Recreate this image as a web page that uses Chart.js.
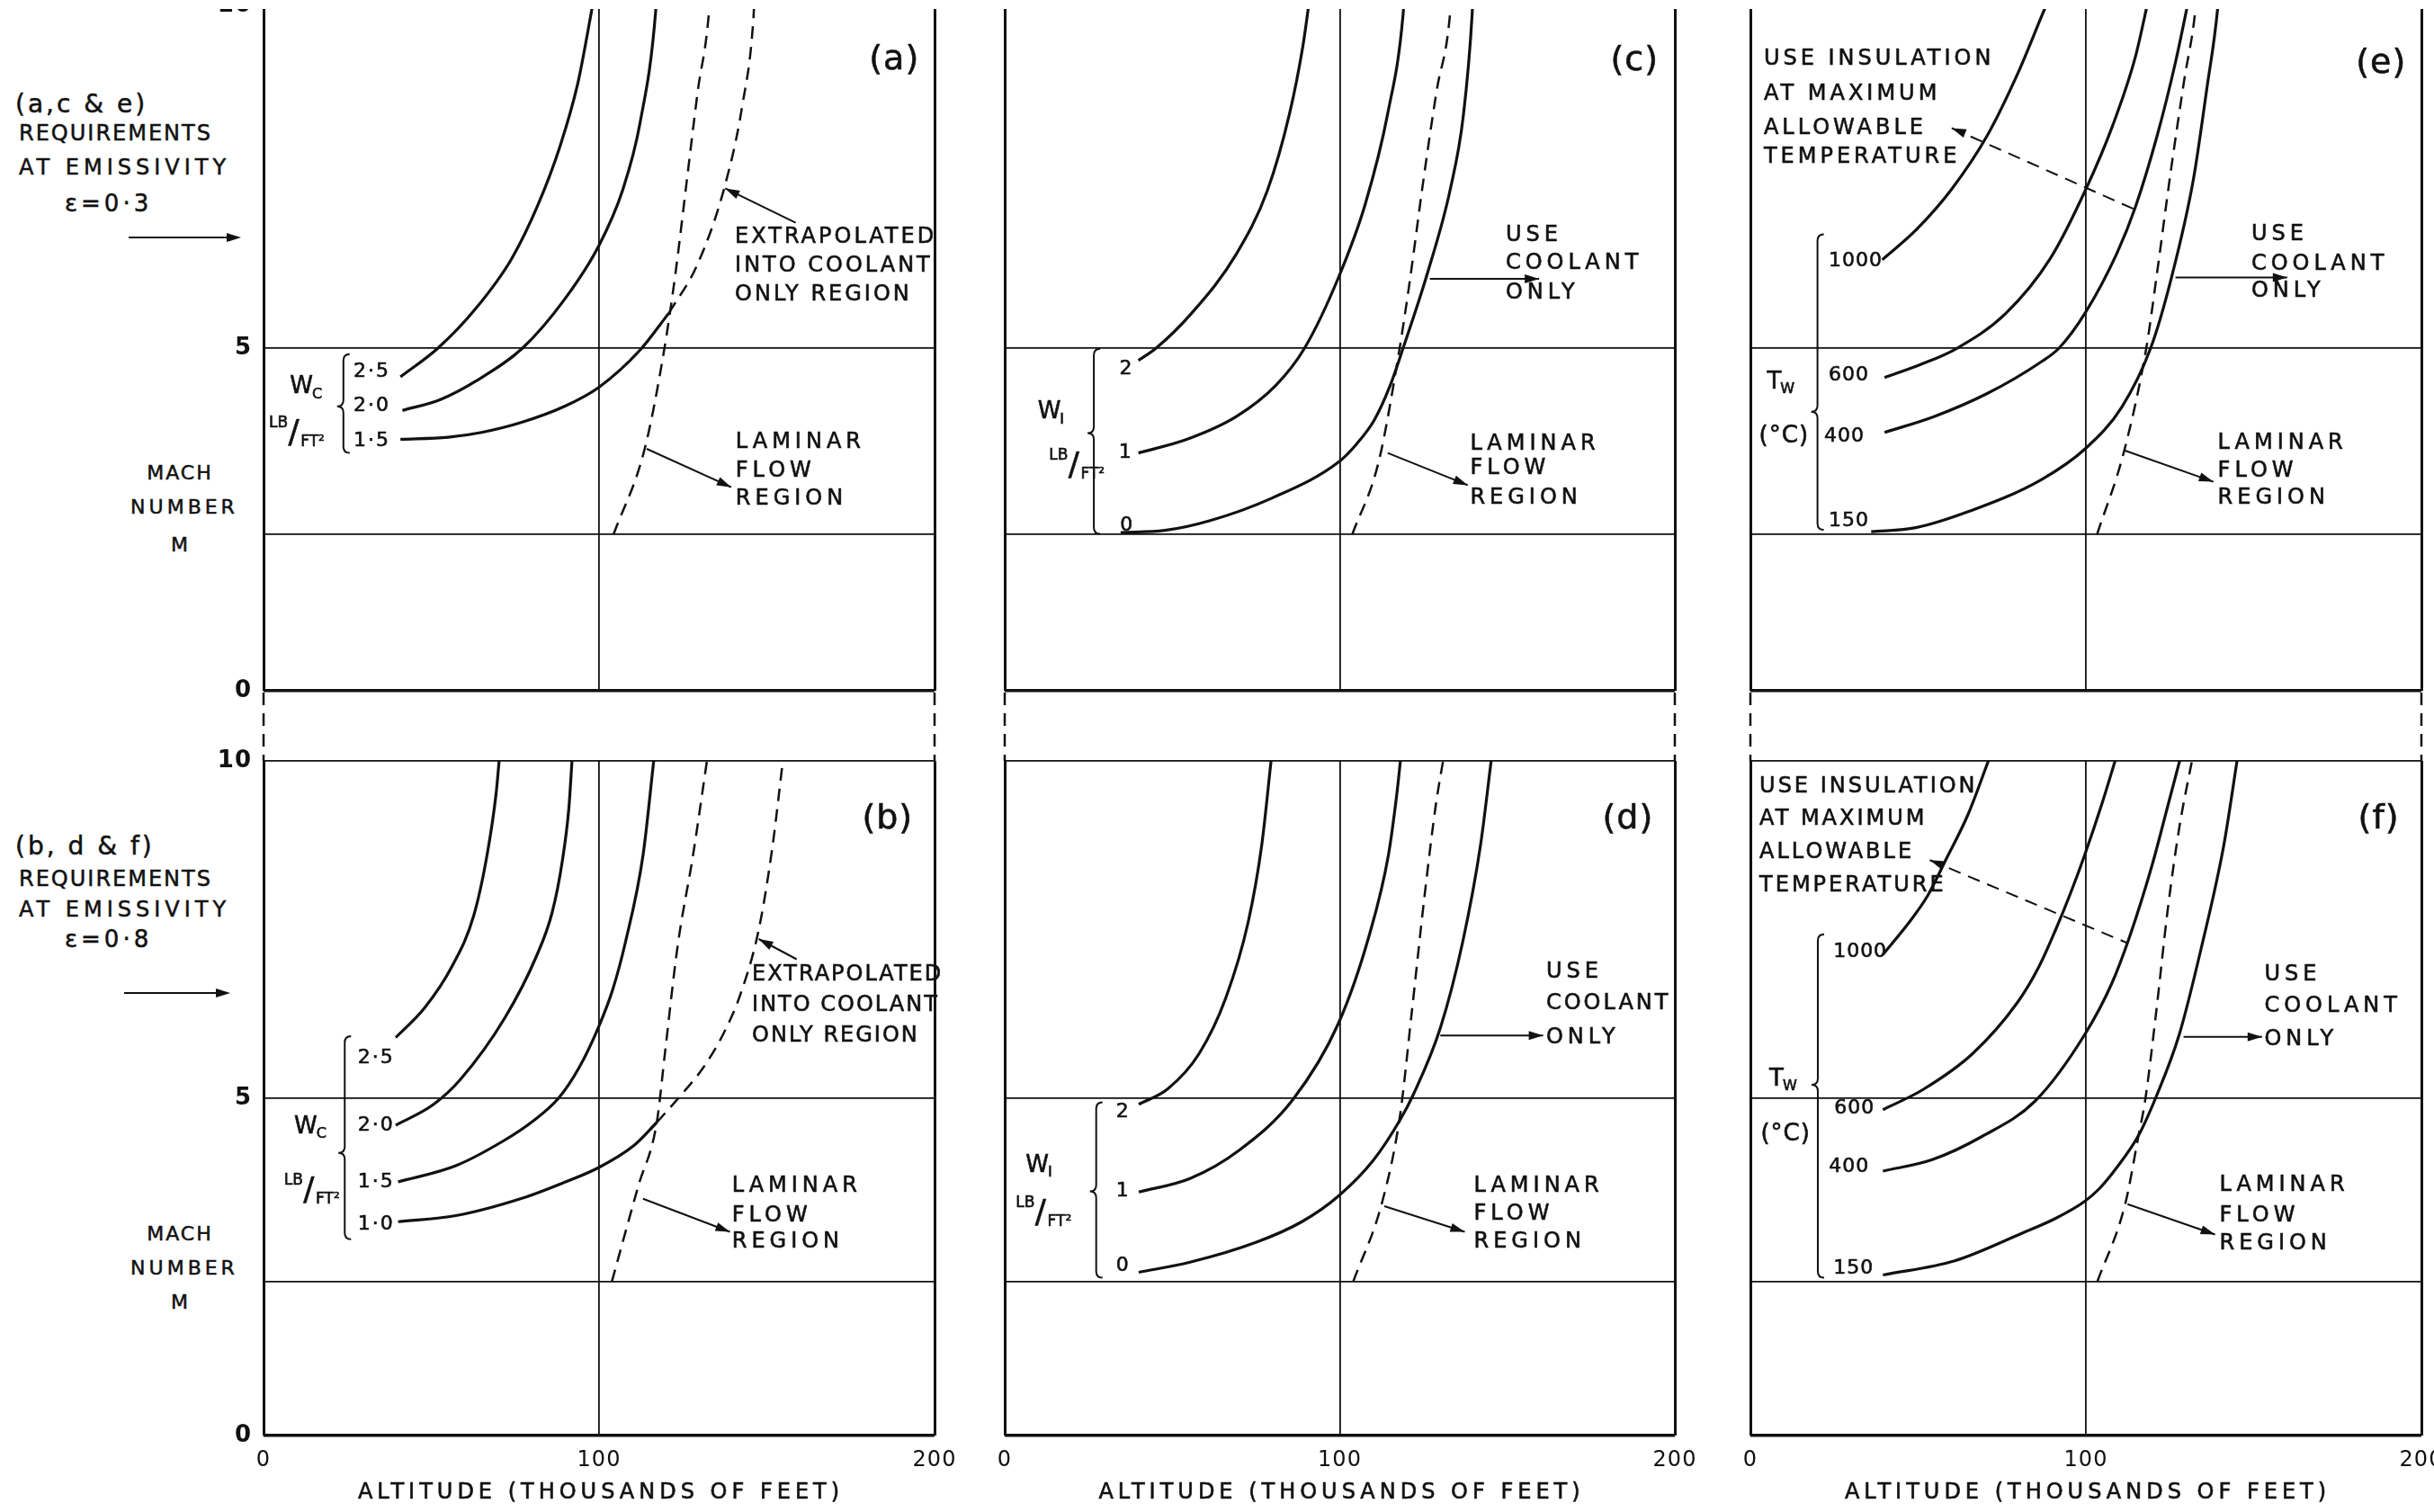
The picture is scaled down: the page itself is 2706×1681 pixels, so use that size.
<!DOCTYPE html>
<html>
<head>
<meta charset="utf-8">
<script src="https://cdn.jsdelivr.net/npm/chart.js@4.4.1/dist/chart.umd.min.js"></script>
<style>
html, body { margin: 0; padding: 0; overflow: hidden; background: #fff; }
body { position: relative; width: 2706px; height: 1681px; font-family: "DejaVu Sans", sans-serif; color: #111; }
canvas { position: absolute; }
.t { position: absolute; font-size: 24px; letter-spacing: 5px; white-space: nowrap; line-height: 1; transform: translateY(-50%); -webkit-text-stroke: 0.5px #111; }
.c { transform: translate(-50%, -50%); }
#strip { position: absolute; left: 0; top: 0; width: 100%; height: 10px; background: #fff; z-index: 5; }
</style>
</head>
<body>
<div id="strip"></div>

<div class="t" style="left:17px;top:116px;font-size:28px;letter-spacing:3px">(a,c &amp; e)</div>
<div class="t" style="left:21px;top:148px;letter-spacing:2px">REQUIREMENTS</div>
<div class="t" style="left:21px;top:186px">AT EMISSIVITY</div>
<div class="t" style="left:72px;top:226px;font-size:26px;letter-spacing:4px">ε=0·3</div>
<div class="t c" style="left:200px;top:526px;font-size:22px;letter-spacing:2px">MACH</div>
<div class="t c" style="left:205px;top:564px;font-size:22px;letter-spacing:4px">NUMBER</div>
<div class="t c" style="left:202px;top:606px;font-size:22px">M</div>

<div class="t" style="left:17px;top:941px;font-size:28px;letter-spacing:3px">(b, d &amp; f)</div>
<div class="t" style="left:21px;top:977px;letter-spacing:2px">REQUIREMENTS</div>
<div class="t" style="left:21px;top:1011px">AT EMISSIVITY</div>
<div class="t" style="left:72px;top:1044px;font-size:26px;letter-spacing:4px">ε=0·8</div>
<div class="t c" style="left:200px;top:1372px;font-size:22px;letter-spacing:2px">MACH</div>
<div class="t c" style="left:205px;top:1410px;font-size:22px;letter-spacing:4px">NUMBER</div>
<div class="t c" style="left:202px;top:1448px;font-size:22px">M</div>

<svg style="position:absolute;left:0;top:0" width="300" height="1681">
  <line x1="143" y1="264" x2="256" y2="264" stroke="#111" stroke-width="2"/>
  <polygon points="268,264 252,259 252,269" fill="#111"/>
  <line x1="138" y1="1104" x2="244" y2="1104" stroke="#111" stroke-width="2"/>
  <polygon points="256,1104 240,1099 240,1109" fill="#111"/>
</svg>

<script>
// axes
const altitudeTicks = [0, 100, 200];          // thousands of feet
const machGrid = [0, 2.28, 5, 10];            // horizontal rules
const machLabels = [0, 5, 10];
const altitudeTitle = 'ALTITUDE (THOUSANDS OF FEET)';

// (a) coolant weight Wc, emissivity 0.3   [altitude, Mach]
const aWc25 = [[40.8,4.58],[52,5.0],[63.3,5.58],[73.9,6.3],[81.8,7.09],[88.4,7.95],[93.7,8.87],[98.3,10.06]];
const aWc20 = [[41.4,4.09],[52.7,4.25],[63.3,4.52],[77.2,5.0],[89.7,5.71],[100,6.5],[107,7.3],[112.2,8.28],[116.9,9.93],[117.1,10.1]];
const aWc15 = [[40.8,3.67],[55,3.7],[65,3.77],[76.5,3.91],[89.7,4.15],[100,4.43],[112.2,4.97],[120.8,5.51]];
const aWc15Extra = [[120.8,5.51],[129.4,6.23],[137.4,7.35],[142.7,8.54],[146,9.8],[146.3,10.1]];
const aLaminar = [[104.3,2.28],[113.6,3.53],[119.5,5.0],[122.8,6.1],[126.1,7.42],[129.4,8.74],[132.8,9.93],[133,10.1]];

// (c) insulation weight Wi, emissivity 0.3
const cWi2 = [[39.9,4.82],[45.2,5.0],[55.8,5.51],[69.1,6.37],[78.4,7.3],[85,8.42],[89,9.41],[91,10.1]];
const cWi1 = [[39.9,3.47],[54.5,3.67],[69.1,4.0],[81,4.46],[89.5,5.0],[99.7,6.04],[107.6,7.1],[114.3,8.42],[118.9,9.87],[119.2,10.1]];
const cWi0 = [[34.6,2.31],[47.8,2.34],[61.1,2.48],[79.7,2.81],[99.7,3.34],[105,3.6],[110.3,3.95],[115,4.45],[118.9,5.0],[126.2,6.1],[132.9,7.3],[136.9,8.4],[139.5,9.87],[139.7,10.1]];
const cLaminar = [[103.7,2.28],[111.6,3.34],[117.6,4.92],[120.9,5.98],[124.9,7.43],[128.9,8.75],[132.9,9.87],[133.2,10.1]];

// (e) wall temperature Tw (deg C), emissivity 0.3
const eTw1000 = [[39.3,6.29],[49.3,6.72],[60,7.32],[70.7,8.11],[80,9.04],[86.7,9.83],[89,10.1]];
const eTw600 = [[40,4.57],[50.7,4.76],[61.3,4.99],[76,5.5],[89.3,6.3],[100,7.32],[108,8.25],[114.7,9.24],[118.7,10.1]];
const eTw400 = [[40,3.77],[54.7,4.0],[70.7,4.34],[86.7,4.8],[92,5.0],[100,5.53],[109.3,6.39],[114.7,7.05],[121.3,8.11],[126.7,9.17],[130.7,10.1]];
const eTw150 = [[36,2.32],[49.3,2.38],[65.3,2.62],[86.7,3.08],[100,3.54],[110.7,4.14],[119.3,5.0],[125.3,5.99],[132,7.45],[136,8.77],[139.3,9.97],[139.5,10.1]];
const eLaminar = [[103.3,2.28],[111.3,3.48],[118,5.0],[121.3,6.13],[125.3,7.58],[129.3,8.91],[132.7,9.97],[132.9,10.1]];
const eInsulation = [[60,8.21],[114.7,7.02]];

// (b) coolant weight Wc, emissivity 0.8
const bWc25 = [[39.4,5.9],[48,6.34],[56,6.94],[62.6,7.7],[66.6,8.6],[69.3,9.51],[70.3,10.05]];
const bWc20 = [[39.4,4.6],[50.7,4.91],[58.7,5.28],[71.9,6.19],[81.2,7.09],[86,7.75],[89,8.5],[91,9.3],[92,10.05]];
const bWc15 = [[40.1,3.76],[57.3,4.0],[71.9,4.38],[80,4.65],[87.9,5.0],[94,5.45],[99.8,6.05],[104,6.6],[107.8,7.3],[113.1,8.6],[116.4,10.05]];
const bWc10 = [[40.1,3.17],[57.3,3.26],[77.2,3.52],[90,3.76],[99.8,3.97],[110.4,4.3],[117.2,4.64]];
const bWc10Extra = [[117.2,4.64],[125,5.08],[131,5.45],[137,5.95],[142.2,6.55],[147.6,7.5],[151.6,8.7],[154.9,10.05]];
const bLaminar = [[103.8,2.28],[111.7,3.7],[117.2,4.64],[119.8,5.74],[123.4,7.25],[128,8.6],[132.3,10.05]];

// (d) insulation weight Wi, emissivity 0.8
const dWi2 = [[40,4.91],[48.7,5.14],[58,5.66],[66,6.49],[72.7,7.62],[76.7,8.75],[79.6,10.05]];
const dWi1 = [[40,3.61],[55.3,3.81],[70,4.23],[86,4.98],[99.6,6.11],[108.7,7.4],[114.5,8.6],[117,9.5],[118.2,10.05]];
const dWi0 = [[40,2.42],[55.3,2.57],[75.3,2.87],[88.7,3.17],[99.6,3.55],[110,4.08],[118,4.68],[122,5.06],[130,6.04],[136.7,7.32],[142,8.75],[145.3,10.05]];
const dLaminar = [[104,2.28],[112.7,3.47],[118,4.75],[121.3,6.19],[125.3,8],[128.7,9.36],[131,10.05]];

// (f) wall temperature Tw (deg C), emissivity 0.8
const fTw1000 = [[39.5,7.13],[47.5,7.62],[52.8,8.0],[58.2,8.53],[64.9,9.21],[71.3,10.05]];
const fTw600 = [[39.5,4.83],[51.5,5.13],[66.2,5.66],[79.6,6.42],[86,6.95],[91,7.5],[95.5,8.05],[99.6,8.6],[105,9.4],[109,10.05]];
const fTw400 = [[39.5,3.92],[54.2,4.09],[68.9,4.43],[84.9,4.96],[99.6,5.94],[107.7,6.7],[113,7.39],[119.7,8.45],[124.5,9.35],[128.2,10.05]];
const fTw150 = [[39.5,2.38],[60.9,2.59],[81,3.0],[91,3.22],[99.6,3.47],[104,3.66],[109,3.96],[115.7,4.45],[121,5.03],[127.8,5.94],[134.4,7.23],[141.1,8.75],[145.2,10.05]];
const fLaminar = [[103.4,2.28],[111.7,3.43],[115.7,4.45],[117.7,4.98],[121,6.3],[124.4,7.8],[127.8,9.0],[131.8,10.05]];
const fInsulation = [[53.5,8.53],[112.4,7.3]];

// layout
const FONT = '"DejaVu Sans", sans-serif';
const INK = '#111';
const COLS = [[293, 1039], [1117, 1862], [1946, 2692]];
const ROWS = [
  { canvasTop: -24, padTop: 30, plotBottom: 768, axisH: 30, padRight: 14 },
  { canvasTop: 768, padTop: 78, plotBottom: 1596, axisH: 85, padRight: 50 }
];
const Y_AXIS_W = 60;
const EX = 3; // tighter spacing used for the "extrapolated" note

const PANELS = [
  { row: 0, col: 0,
    curves: [{ d: aWc25 }, { d: aWc20 }, { d: aWc15 }, { d: aWc15Extra, dash: true }, { d: aLaminar, dash: true }],
    notes: [
      { t: '(a)', x: 188, y: 9.2, size: 38, align: 'center', gap: 1 },
      { t: 'EXTRAPOLATED', x: 140.5, y: 6.62, gap: EX }, { t: 'INTO COOLANT', x: 140.5, y: 6.2, gap: EX }, { t: 'ONLY REGION', x: 140.5, y: 5.78, gap: EX },
      { arrow: [158.6, 6.83, 137.6, 7.33] },
      { t: 'LAMINAR', x: 140.7, y: 3.63 }, { t: 'FLOW', x: 140.7, y: 3.2 }, { t: 'REGION', x: 140.7, y: 2.8 },
      { arrow: [114.2, 3.53, 139.4, 2.97] },
      { sub: ['W', 'C'], x: 11.6, y: 4.43 }, { frac: true, x: 9.0, y: 3.74 },
      { brace: [23.8, 4.91, 3.47, 4.15] },
      { t: '2·5', x: 26.8, y: 4.65, size: 22, gap: 2 }, { t: '2·0', x: 26.8, y: 4.15, size: 22, gap: 2 }, { t: '1·5', x: 26.8, y: 3.65, size: 22, gap: 2 }
    ] },
  { row: 0, col: 1,
    curves: [{ d: cWi2 }, { d: cWi1 }, { d: cWi0 }, { d: cLaminar, dash: true }],
    notes: [
      { t: '(c)', x: 188, y: 9.18, size: 38, align: 'center', gap: 1 },
      { t: 'USE', x: 149.5, y: 6.64 }, { t: 'COOLANT', x: 149.5, y: 6.24 }, { t: 'ONLY', x: 149.5, y: 5.81 },
      { arrow: [126.9, 6.01, 159.5, 6.01] },
      { t: 'LAMINAR', x: 138.9, y: 3.6 }, { t: 'FLOW', x: 138.9, y: 3.24 }, { t: 'REGION', x: 138.9, y: 2.81 },
      { arrow: [114.3, 3.47, 138.2, 3.0] },
      { sub: ['W', 'I'], x: 13.6, y: 4.06 }, { frac: true, x: 20.6, y: 3.27 },
      { brace: [26.6, 4.99, 2.29, 3.76] },
      { t: '2', x: 36.8, y: 4.69, align: 'center', size: 22 }, { t: '1', x: 36.6, y: 3.47, align: 'center', size: 22 }, { t: '0', x: 37, y: 2.41, align: 'center', size: 22 }
    ] },
  { row: 0, col: 2,
    curves: [{ d: eTw1000 }, { d: eTw600 }, { d: eTw400 }, { d: eTw150 }, { d: eLaminar, dash: true }, { d: eInsulation, dash: true, thin: true }],
    notes: [
      { t: 'USE INSULATION', x: 4, y: 9.21, gap: 4 }, { t: 'AT MAXIMUM', x: 4, y: 8.71, gap: 4 }, { t: 'ALLOWABLE', x: 4, y: 8.21, gap: 4 }, { t: 'TEMPERATURE', x: 4, y: 7.78, gap: 4 },
      { t: '(e)', x: 188, y: 9.15, size: 38, align: 'center', gap: 1 },
      { head: [62.5, 8.16, 60, 8.21] },
      { t: 'USE', x: 149.3, y: 6.66 }, { t: 'COOLANT', x: 149.3, y: 6.23 }, { t: 'ONLY', x: 149.3, y: 5.83 },
      { arrow: [126.7, 6.03, 160, 6.03] },
      { t: 'LAMINAR', x: 139.3, y: 3.61 }, { t: 'FLOW', x: 139.3, y: 3.21 }, { t: 'REGION', x: 139.3, y: 2.81 },
      { arrow: [111.3, 3.51, 138, 3.05] },
      { sub: ['T', 'W'], x: 8.7, y: 4.5 }, { t: '(°C)', x: 10, y: 3.71, size: 26, align: 'center', gap: 1 },
      { brace: [20, 6.66, 2.35, 4.07] },
      { t: '1000', x: 23.3, y: 6.27, size: 22, gap: 1 }, { t: '600', x: 23.3, y: 4.6, size: 22, gap: 1 }, { t: '400', x: 22, y: 3.71, size: 22, gap: 1 }, { t: '150', x: 23.3, y: 2.48, size: 22, gap: 1 }
    ] },
  { row: 1, col: 0,
    curves: [{ d: bWc25 }, { d: bWc20 }, { d: bWc15 }, { d: bWc10 }, { d: bWc10Extra, dash: true }, { d: bLaminar, dash: true }],
    notes: [
      { t: '(b)', x: 186, y: 9.13, size: 38, align: 'center', gap: 1 },
      { t: 'EXTRAPOLATED', x: 145.6, y: 6.83, gap: 2 }, { t: 'INTO COOLANT', x: 145.6, y: 6.38, gap: 2 }, { t: 'ONLY REGION', x: 145.6, y: 5.92, gap: 2 },
      { arrow: [158.9, 7.06, 147.6, 7.36] },
      { t: 'LAMINAR', x: 139.6, y: 3.7 }, { t: 'FLOW', x: 139.6, y: 3.26 }, { t: 'REGION', x: 139.6, y: 2.87 },
      { arrow: [113.1, 3.51, 139, 3.02] },
      { sub: ['W', 'C'], x: 12.9, y: 4.57 }, { frac: true, x: 13.5, y: 3.62 },
      { brace: [24.2, 5.92, 2.91, 4.19] },
      { t: '2·5', x: 28.1, y: 5.6, size: 22, gap: 2 }, { t: '2·0', x: 28.1, y: 4.6, size: 22, gap: 2 }, { t: '1·5', x: 28.1, y: 3.76, size: 22, gap: 2 }, { t: '1·0', x: 28.1, y: 3.13, size: 22, gap: 2 }
    ] },
  { row: 1, col: 1,
    curves: [{ d: dWi2 }, { d: dWi1 }, { d: dWi0 }, { d: dLaminar, dash: true }],
    notes: [
      { t: '(d)', x: 186, y: 9.13, size: 38, align: 'center', gap: 1 },
      { t: 'USE', x: 161.6, y: 6.87 }, { t: 'COOLANT', x: 161.6, y: 6.4, gap: 3 }, { t: 'ONLY', x: 161.6, y: 5.9 },
      { arrow: [130, 5.93, 160.7, 5.93] },
      { t: 'LAMINAR', x: 140, y: 3.7 }, { t: 'FLOW', x: 140, y: 3.28 }, { t: 'REGION', x: 140, y: 2.87 },
      { arrow: [113.3, 3.4, 137.3, 3.02] },
      { sub: ['W', 'I'], x: 10, y: 4.0 }, { frac: true, x: 10.7, y: 3.28 },
      { brace: [27.3, 4.94, 2.34, 3.62] },
      { t: '2', x: 35.8, y: 4.79, align: 'center', size: 22 }, { t: '1', x: 35.8, y: 3.62, align: 'center', size: 22 }, { t: '0', x: 35.8, y: 2.51, align: 'center', size: 22 }
    ] },
  { row: 1, col: 2,
    curves: [{ d: fTw1000 }, { d: fTw600 }, { d: fTw400 }, { d: fTw150 }, { d: fLaminar, dash: true }, { d: fInsulation, dash: true, thin: true }],
    notes: [
      { t: 'USE INSULATION', x: 2.7, y: 9.62, gap: 3 }, { t: 'AT MAXIMUM', x: 2.7, y: 9.13, gap: 3 }, { t: 'ALLOWABLE', x: 2.7, y: 8.64, gap: 3 }, { t: 'TEMPERATURE', x: 2.7, y: 8.15, gap: 3 },
      { t: '(f)', x: 187.3, y: 9.13, size: 38, align: 'center', gap: 1 },
      { head: [56, 8.48, 53.5, 8.53] },
      { t: 'USE', x: 153.2, y: 6.83 }, { t: 'COOLANT', x: 153.2, y: 6.36 }, { t: 'ONLY', x: 153.2, y: 5.87 },
      { arrow: [129.1, 5.91, 152.5, 5.91] },
      { t: 'LAMINAR', x: 139.8, y: 3.71 }, { t: 'FLOW', x: 139.8, y: 3.25 }, { t: 'REGION', x: 139.8, y: 2.84 },
      { arrow: [112.4, 3.43, 138.5, 2.98] },
      { sub: ['T', 'W'], x: 9.4, y: 5.28 }, { t: '(°C)', x: 10.5, y: 4.47, size: 26, align: 'center', gap: 1 },
      { brace: [20.1, 7.43, 2.34, 5.2] },
      { t: '1000', x: 24.7, y: 7.17, size: 22, gap: 1 }, { t: '600', x: 25, y: 4.85, size: 22, gap: 1 }, { t: '400', x: 23.4, y: 3.98, size: 22, gap: 1 }, { t: '150', x: 24.7, y: 2.47, size: 22, gap: 1 }
    ] }
];

function drawHead(ctx, x1, y1, x2, y2) {
  const a = Math.atan2(y2 - y1, x2 - x1), L = 16, W = 5;
  ctx.beginPath();
  ctx.moveTo(x2, y2);
  ctx.lineTo(x2 - L * Math.cos(a) + W * Math.sin(a), y2 - L * Math.sin(a) - W * Math.cos(a));
  ctx.lineTo(x2 - L * Math.cos(a) - W * Math.sin(a), y2 - L * Math.sin(a) + W * Math.cos(a));
  ctx.closePath();
  ctx.fill();
}

function inkText(ctx, s, x, y) {
  ctx.fillText(s, x, y);
  ctx.lineWidth = 0.6;
  ctx.strokeText(s, x, y);
}

function notesPlugin(panel) {
  return {
    id: 'notes',
    beforeDraw(chart) { chart.ctx.letterSpacing = '1px'; },
    afterDatasetsDraw(chart) {
      const { ctx } = chart;
      const xs = chart.scales.x, ys = chart.scales.y;
      const px = v => xs.getPixelForValue(v), py = v => ys.getPixelForValue(v);
      ctx.save();
      ctx.fillStyle = INK;
      ctx.strokeStyle = INK;
      ctx.textBaseline = 'middle';
      for (const n of panel.notes) {
        if (n.t) {
          ctx.font = (n.size || 24) + 'px ' + FONT;
          ctx.letterSpacing = (n.gap != null ? n.gap : 5) + 'px';
          ctx.textAlign = n.align || 'left';
          inkText(ctx, n.t, px(n.x), py(n.y));
        } else if (n.sub) {
          ctx.letterSpacing = '0px';
          ctx.textAlign = 'left';
          ctx.font = '26px ' + FONT;
          const X = px(n.x) - 14, Y = py(n.y);
          inkText(ctx, n.sub[0], X, Y);
          const w = ctx.measureText(n.sub[0]).width;
          ctx.font = '16px ' + FONT;
          inkText(ctx, n.sub[1], X + w - 1, Y + 8);
        } else if (n.frac) {
          ctx.letterSpacing = '0px';
          ctx.textAlign = 'center';
          const X = px(n.x), Y = py(n.y);
          ctx.font = '17px ' + FONT;
          inkText(ctx, 'LB', X - 17, Y - 12);
          ctx.font = '36px ' + FONT;
          inkText(ctx, '/', X, Y);
          ctx.font = '17px ' + FONT;
          inkText(ctx, 'FT²', X + 21, Y + 9);
        } else if (n.brace) {
          const [bx, top, bot, mid] = n.brace;
          const X = px(bx), T = py(top), B = py(bot), M = py(mid), r = 7;
          ctx.lineWidth = 2;
          ctx.beginPath();
          ctx.moveTo(X + r, T);
          ctx.quadraticCurveTo(X, T, X, T + r);
          ctx.lineTo(X, M - r);
          ctx.quadraticCurveTo(X, M, X - r, M);
          ctx.quadraticCurveTo(X, M, X, M + r);
          ctx.lineTo(X, B - r);
          ctx.quadraticCurveTo(X, B, X + r, B);
          ctx.stroke();
        } else if (n.arrow) {
          const [x1, y1, x2, y2] = n.arrow;
          const X1 = px(x1), Y1 = py(y1), X2 = px(x2), Y2 = py(y2);
          ctx.lineWidth = 2;
          ctx.beginPath();
          ctx.moveTo(X1, Y1);
          ctx.lineTo(X2, Y2);
          ctx.stroke();
          drawHead(ctx, X1, Y1, X2, Y2);
        } else if (n.head) {
          const [x1, y1, x2, y2] = n.head;
          drawHead(ctx, px(x1), py(y1), px(x2), py(y2));
        }
      }
      ctx.restore();
    },
    afterDraw(chart) {
      if (panel.row !== 1) return;
      const { ctx, chartArea } = chart;
      const xs = chart.scales.x;
      ctx.save();
      // broken-axis dashes between the two rows
      ctx.strokeStyle = INK;
      ctx.lineWidth = 2.5;
      ctx.setLineDash([14, 9]);
      for (const v of [altitudeTicks[0], altitudeTicks[altitudeTicks.length - 1]]) {
        const X = xs.getPixelForValue(v);
        ctx.beginPath();
        ctx.moveTo(X, 2);
        ctx.lineTo(X, chartArea.top);
        ctx.stroke();
      }
      // axis title, letter-spaced like the stencil lettering
      ctx.setLineDash([]);
      ctx.fillStyle = INK;
      ctx.font = '24px ' + FONT;
      ctx.letterSpacing = '5px';
      ctx.textAlign = 'center';
      ctx.textBaseline = 'middle';
      inkText(ctx, altitudeTitle, (chartArea.left + chartArea.right) / 2 + 2, chartArea.bottom + 64);
      ctx.restore();
    }
  };
}

Chart.defaults.font.family = FONT;
Chart.defaults.color = INK;

PANELS.forEach(panel => {
  const row = ROWS[panel.row];
  const [x0, x1] = COLS[panel.col];
  const canvas = document.createElement('canvas');
  const w = Y_AXIS_W + (x1 - x0) + row.padRight;
  const h = row.plotBottom - row.canvasTop + row.axisH;
  canvas.width = w;
  canvas.height = h;
  canvas.style.left = (x0 - Y_AXIS_W) + 'px';
  canvas.style.top = row.canvasTop + 'px';
  canvas.style.width = w + 'px';
  canvas.style.height = h + 'px';
  document.body.appendChild(canvas);

  const bottomRow = panel.row === 1;
  const leftCol = panel.col === 0;

  new Chart(canvas, {
    type: 'line',
    data: {
      datasets: panel.curves.map(c => ({
        data: c.d.map(p => ({ x: p[0], y: p[1] })),
        borderColor: INK,
        borderWidth: c.thin ? 2 : (c.dash ? 2.5 : 3.2),
        borderDash: c.dash ? [14, 9] : [],
        pointRadius: 0,
        fill: false,
        cubicInterpolationMode: c.d.length > 2 ? 'monotone' : 'default',
        tension: 0
      }))
    },
    options: {
      responsive: false,
      animation: false,
      events: [],
      devicePixelRatio: 1,
      layout: { padding: { top: row.padTop, right: row.padRight, left: 0, bottom: 0 } },
      plugins: { legend: { display: false }, tooltip: { enabled: false } },
      scales: {
        x: {
          type: 'linear', min: 0, max: 200,
          afterBuildTicks: s => { s.ticks = altitudeTicks.map(v => ({ value: v })); },
          afterFit: s => { s.height = row.axisH; },
          border: { display: false },
          grid: {
            color: INK, drawTicks: false,
            lineWidth: c => (c.tick && (c.tick.value === 0 || c.tick.value === 200)) ? 3 : 1.8
          },
          ticks: { display: bottomRow, font: { size: 24 }, color: INK, padding: 13, maxRotation: 0, autoSkip: false, callback: v => String(v) }
        },
        y: {
          type: 'linear', min: 0, max: 10,
          afterBuildTicks: s => { s.ticks = machGrid.map(v => ({ value: v })); },
          afterFit: s => { s.width = Y_AXIS_W; },
          border: { display: false },
          grid: {
            color: INK, drawTicks: false,
            lineWidth: c => (c.tick && c.tick.value === 0) ? 3.5 : 1.8
          },
          ticks: {
            display: leftCol, font: { size: 26, weight: 'bold' }, color: INK, padding: 13, autoSkip: false,
            callback: v => machLabels.includes(v) ? String(v) : ''
          }
        }
      }
    },
    plugins: [notesPlugin(panel)]
  });
});
</script>
</body>
</html>
